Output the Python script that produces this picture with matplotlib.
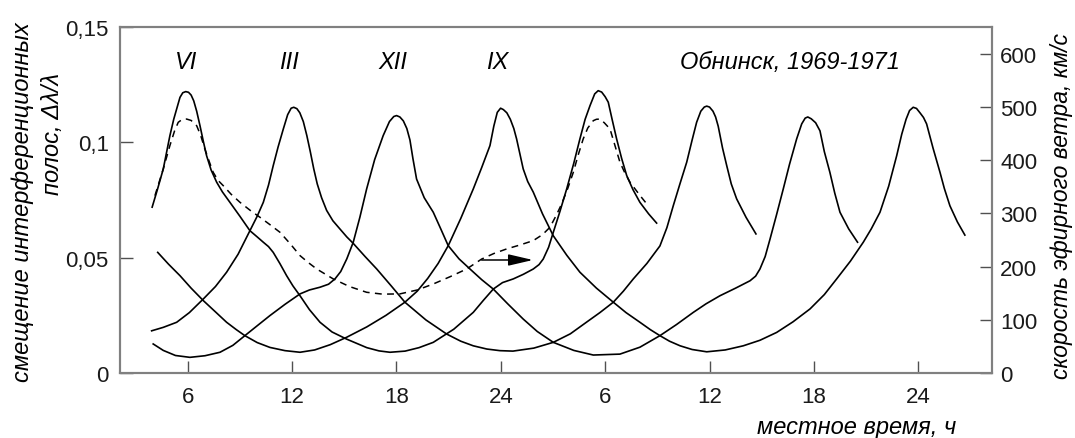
import numpy as np
import matplotlib.pyplot as plt

plt.rcParams['font.family'] = ['Liberation Sans', 'DejaVu Sans']

# local time, h (continuous over two days) and fringe shift dL/L
t_vi = [3.96, 4.28, 4.60, 4.98, 5.20, 5.37, 5.56, 5.72, 5.89, 6.05, 6.20, 6.35, 6.52,
        6.71, 6.90, 7.09, 7.35, 7.67, 8.00, 8.43, 9.00, 9.58, 10.00, 10.35, 10.65,
        10.92, 11.30, 11.69, 12.05, 12.46, 13.00, 13.61, 14.30, 15.14, 16.30, 17.00,
        17.63, 18.50, 19.30, 20.12, 21.30, 22.42, 23.00, 23.57, 24.10, 24.72, 25.30,
        25.87, 26.20, 26.44, 26.75, 27.02, 27.40, 27.79, 28.20, 28.55, 28.85, 29.13,
        29.40, 29.60, 29.80, 30.00, 30.18, 30.40, 30.66, 30.95, 31.24, 31.60, 32.00,
        32.50, 32.96]
d_vi = [0.0719, 0.0800, 0.0885, 0.1029, 0.1100, 0.1145, 0.1195, 0.1215, 0.1220, 0.1217,
        0.1205, 0.1180, 0.1135, 0.1072, 0.1005, 0.0942, 0.0880, 0.0827, 0.0785, 0.0740,
        0.0680, 0.0617, 0.0590, 0.0567, 0.0548, 0.0523, 0.0475, 0.0422, 0.0378, 0.0335,
        0.0275, 0.0220, 0.0178, 0.0147, 0.0110, 0.0096, 0.0090, 0.0095, 0.0110, 0.0133,
        0.0190, 0.0263, 0.0315, 0.0364, 0.0392, 0.0408, 0.0428, 0.0451, 0.0470, 0.0494,
        0.0545, 0.0610, 0.0700, 0.0798, 0.0910, 0.1015, 0.1100, 0.1159, 0.1210, 0.1224,
        0.1218, 0.1198, 0.1174, 0.1100, 0.1015, 0.0930, 0.0856, 0.0795, 0.0740, 0.0690,
        0.0650]

t_iii = [3.93, 4.60, 5.37, 6.10, 6.90, 7.60, 8.24, 8.90, 9.58, 10.00, 10.35, 10.65,
         10.92, 11.20, 11.50, 11.75, 11.95, 12.10, 12.28, 12.45, 12.65, 12.85, 13.05,
         13.25, 13.45, 13.70, 13.99, 14.35, 14.76, 15.15, 15.52, 16.20, 16.87, 17.70,
         18.49, 19.70, 20.89, 21.70, 22.42, 23.20, 23.95, 24.70, 25.90, 27.02, 28.00,
         28.94, 29.70, 30.47, 31.05, 31.62, 32.40, 33.15, 33.55, 33.92, 34.30, 34.69,
         35.00, 35.26, 35.50, 35.70, 35.84, 36.00, 36.20, 36.35, 36.50, 36.75, 36.99,
         37.25, 37.56, 38.10, 38.67]
d_iii = [0.0183, 0.0198, 0.0220, 0.0262, 0.0321, 0.0375, 0.0437, 0.0515, 0.0617, 0.0680,
         0.0740, 0.0815, 0.0899, 0.0980, 0.1058, 0.1120, 0.1148, 0.1152, 0.1146, 0.1128,
         0.1090, 0.1030, 0.0960, 0.0885, 0.0820, 0.0760, 0.0705, 0.0660, 0.0624, 0.0590,
         0.0562, 0.0505, 0.0451, 0.0378, 0.0307, 0.0230, 0.0169, 0.0138, 0.0118, 0.0104,
         0.0097, 0.0095, 0.0108, 0.0133, 0.0170, 0.0221, 0.0262, 0.0307, 0.0355, 0.0408,
         0.0475, 0.0551, 0.0630, 0.0726, 0.0820, 0.0914, 0.1010, 0.1087, 0.1135, 0.1153,
         0.1157, 0.1153, 0.1135, 0.1110, 0.1070, 0.0975, 0.0899, 0.0820, 0.0755, 0.0675,
         0.0603]

t_xii = [4.02, 4.60, 5.30, 6.13, 7.00, 7.86, 8.60, 9.29, 10.00, 10.73, 11.60, 12.46,
         13.00, 13.61, 14.10, 14.47, 14.80, 15.15, 15.52, 15.90, 16.29, 16.75, 17.24,
         17.60, 17.85, 18.01, 18.20, 18.40, 18.60, 18.78, 18.95, 19.16, 19.60, 20.12,
         20.55, 20.98, 21.60, 22.23, 22.90, 23.57, 24.40, 25.29, 26.10, 27.02, 28.20,
         29.32, 30.85, 32.00, 33.15, 34.10, 35.07, 35.80, 36.60, 37.50, 38.33, 38.65,
         38.90, 39.20, 39.48, 39.85, 40.24, 40.60, 41.01, 41.30, 41.50, 41.65, 41.85,
         42.10, 42.35, 42.60, 42.92, 43.20, 43.50, 44.00, 44.51]
d_xii = [0.0126, 0.0098, 0.0076, 0.0068, 0.0075, 0.0090, 0.0120, 0.0162, 0.0205, 0.0249,
         0.0298, 0.0343, 0.0360, 0.0372, 0.0385, 0.0408, 0.0440, 0.0495, 0.0567, 0.0675,
         0.0798, 0.0925, 0.1029, 0.1090, 0.1112, 0.1116, 0.1110, 0.1093, 0.1060, 0.1010,
         0.0930, 0.0841, 0.0760, 0.0697, 0.0625, 0.0552, 0.0495, 0.0451, 0.0405, 0.0364,
         0.0300, 0.0234, 0.0180, 0.0133, 0.0098, 0.0078, 0.0082, 0.0112, 0.0162, 0.0210,
         0.0263, 0.0300, 0.0335, 0.0368, 0.0400, 0.0420, 0.0451, 0.0505, 0.0581, 0.0685,
         0.0798, 0.0905, 0.1015, 0.1080, 0.1105, 0.1110, 0.1102, 0.1085, 0.1050, 0.0960,
         0.0870, 0.0780, 0.0697, 0.0625, 0.0567]

t_ix = [4.28, 4.90, 5.56, 6.20, 6.90, 7.60, 8.24, 8.80, 9.29, 10.00, 10.73, 11.60,
        12.46, 13.30, 14.20, 15.14, 16.30, 17.40, 18.49, 19.20, 19.80, 20.40, 20.98,
        21.70, 22.42, 22.90, 23.38, 23.60, 23.80, 23.99, 24.15, 24.35, 24.55, 24.75,
        24.91, 25.10, 25.29, 25.55, 25.87, 26.40, 27.02, 27.80, 28.55, 29.50, 30.47,
        31.20, 32.00, 32.60, 33.15, 33.70, 34.31, 35.00, 35.84, 36.90, 37.94, 38.90,
        39.86, 40.80, 41.78, 42.60, 43.31, 44.10, 44.84, 45.30, 45.80, 46.30, 46.76,
        47.05, 47.30, 47.50, 47.71, 47.90, 48.10, 48.30, 48.48, 48.85, 49.25, 49.50,
        49.82, 50.25, 50.68]
d_ix = [0.0523, 0.0472, 0.0422, 0.0368, 0.0314, 0.0265, 0.0220, 0.0188, 0.0162, 0.0132,
        0.0111, 0.0097, 0.0090, 0.0100, 0.0123, 0.0155, 0.0200, 0.0250, 0.0307, 0.0355,
        0.0410, 0.0475, 0.0552, 0.0670, 0.0798, 0.0890, 0.0986, 0.1070, 0.1130, 0.1148,
        0.1142, 0.1128, 0.1100, 0.1060, 0.1015, 0.0950, 0.0885, 0.0830, 0.0784, 0.0690,
        0.0595, 0.0510, 0.0437, 0.0368, 0.0307, 0.0262, 0.0220, 0.0188, 0.0162, 0.0138,
        0.0118, 0.0102, 0.0092, 0.0100, 0.0118, 0.0142, 0.0176, 0.0222, 0.0278, 0.0340,
        0.0408, 0.0485, 0.0567, 0.0625, 0.0697, 0.0810, 0.0942, 0.1035, 0.1100, 0.1138,
        0.1152, 0.1147, 0.1128, 0.1108, 0.1080, 0.0975, 0.0870, 0.0800, 0.0725, 0.0655,
        0.0598]

# averaged curve (dashed)
t_avg = [4.12, 4.60, 4.98, 5.25, 5.46, 5.70, 5.94, 6.20, 6.52, 6.75, 6.99, 7.25, 7.47,
         7.75, 8.05, 8.50, 9.01, 9.60, 10.16, 10.70, 11.31, 11.90, 12.46, 12.95, 13.42,
         14.37, 15.30, 16.29, 17.20, 18.20, 19.20, 20.12, 21.10, 22.04, 22.90, 23.60,
         24.34, 25.10, 25.87, 26.40, 26.83, 27.20, 27.50, 27.85, 28.17, 28.45, 28.74,
         29.00, 29.32, 29.50, 29.70, 29.95, 30.28, 30.55, 30.85, 31.15, 31.43, 32.00,
         32.48]
d_avg = [0.0769, 0.0885, 0.0986, 0.1050, 0.1087, 0.1100, 0.1101, 0.1095, 0.1072, 0.1030,
         0.0971, 0.0915, 0.0870, 0.0835, 0.0812, 0.0775, 0.0740, 0.0705, 0.0675, 0.0645,
         0.0610, 0.0560, 0.0509, 0.0478, 0.0451, 0.0408, 0.0375, 0.0350, 0.0342, 0.0343,
         0.0360, 0.0386, 0.0418, 0.0451, 0.0494, 0.0518, 0.0538, 0.0555, 0.0574, 0.0600,
         0.0632, 0.0685, 0.0733, 0.0800, 0.0870, 0.0945, 0.1015, 0.1062, 0.1094, 0.1100,
         0.1101, 0.1085, 0.1058, 0.0990, 0.0914, 0.0865, 0.0827, 0.0770, 0.0725]

months = ['VI', 'III', 'XII', 'IX']
month_t = [5.9, 11.8, 17.8, 23.8]

x_ticks = [6, 12, 18, 24, 30, 36, 42, 48]
x_labels = ['6', '12', '18', '24', '6', '12', '18', '24']
y_ticks = [0, 0.05, 0.1, 0.15]
y_labels = ['0', '0,05', '0,1', '0,15']
v_ticks = [0, 100, 200, 300, 400, 500, 600]

fig = plt.figure(figsize=(10.75, 4.39), dpi=100)
ax = fig.add_axes([0.1116, 0.148, 0.8112, 0.7882])

for t, d in [(t_vi, d_vi), (t_iii, d_iii), (t_xii, d_xii), (t_ix, d_ix)]:
    ax.plot(t, d, color='black', lw=1.2, solid_joinstyle='round')
ax.plot(t_avg, d_avg, color='black', lw=1.1, dashes=(4.5, 3.5))

ax.annotate('', xy=(25.85, 0.049), xytext=(22.9, 0.049),
            arrowprops=dict(arrowstyle='-|>,head_length=1.5,head_width=0.35',
                            color='black', lw=1.1, shrinkA=0, shrinkB=0))

for m, t in zip(months, month_t):
    ax.text(t, 0.135, m, style='italic', fontsize=17, ha='center', va='center')
ax.text(34.3, 0.135, 'Обнинск, 1969-1971', style='italic', fontsize=17,
        ha='left', va='center')

ax.set_xlim(2.11, 52.24)
ax.set_ylim(0, 0.15)
ax.set_xticks(x_ticks)
ax.set_xticklabels(x_labels)
ax.set_yticks(y_ticks)
ax.set_yticklabels(y_labels)

ax2 = ax.twinx()
ax2.set_ylim(0, 650)
ax2.set_yticks(v_ticks)

for a in (ax, ax2):
    for s in a.spines.values():
        s.set_color('#808080')
        s.set_linewidth(1.5)
    a.tick_params(direction='in', length=9, width=1, color='#505050',
                  labelsize=16, labelcolor='#1a1a1a')
ax.tick_params(axis='y', pad=8)
ax.tick_params(axis='x', pad=9)
ax2.tick_params(axis='y', pad=6)

fig.text(0.021, 0.54, 'смещение интерференционных', rotation=90,
         style='italic', fontsize=17, ha='center', va='center')
fig.text(0.049, 0.695, 'полос, Δλ/λ', rotation=90,
         style='italic', fontsize=17, ha='center', va='center')
fig.text(0.987, 0.53, 'скорость эфирного ветра, км/с', rotation=90,
         style='italic', fontsize=16.5, ha='center', va='center')
fig.text(0.797, 0.027, 'местное время, ч', style='italic', fontsize=17,
         ha='center', va='center')

fig.savefig('out.png', dpi=100)
